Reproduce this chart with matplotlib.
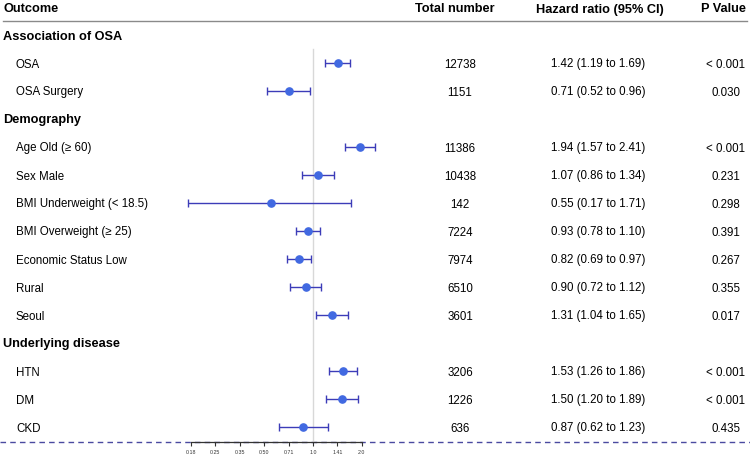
import matplotlib
matplotlib.use("Agg")
import matplotlib.pyplot as plt
import numpy as np

plt.rcParams["font.family"] = ["Liberation Sans", "DejaVu Sans"]

# --- data -----------------------------------------------------------------
sections = ["Association of OSA", "Demography", "Underlying disease"]
outcomes = [
    "OSA", "OSA Surgery",
    "Age Old (≥ 60)", "Sex Male", "BMI Underweight (< 18.5)", "BMI Overweight (≥ 25)",
    "Economic Status Low", "Rural", "Seoul",
    "HTN", "DM", "CKD",
]
section_idx = [0, 0, 1, 1, 1, 1, 1, 1, 1, 2, 2, 2]
totals = [12738, 1151, 11386, 10438, 142, 7224, 7974, 6510, 3601, 3206, 1226, 636]
hr = [1.42, 0.71, 1.94, 1.07, 0.55, 0.93, 0.82, 0.90, 1.31, 1.53, 1.50, 0.87]
ci_low = [1.19, 0.52, 1.57, 0.86, 0.17, 0.78, 0.69, 0.72, 1.04, 1.26, 1.20, 0.62]
ci_high = [1.69, 0.96, 2.41, 1.34, 1.71, 1.10, 0.97, 1.12, 1.65, 1.86, 1.89, 1.23]
p_values = ["< 0.001", "0.030", "< 0.001", "0.231", "0.298", "0.391", "0.267",
            "0.355", "0.017", "< 0.001", "< 0.001", "0.435"]
tick_values = [2 ** (k / 2) for k in range(-5, 3)]
tick_labels = ["0.18", "0.25", "0.35", "0.50", "0.71", "1.0", "1.41", "2.0"]

# --- layout (pixels) ------------------------------------------------------
W, H = 750, 458
ROW0, ROW_H = 35, 28          # first row centre, row pitch
HEADER_Y, RULE_Y, AXIS_Y = 8, 21, 442
TXT_DY = 1.5                  # nudge text down to sit on the marker line
X_ONE, PX_PER_LOG2 = 313, 48.8
FOREST_L, FOREST_R = 150, 400

HEAD_FS, BODY_FS = 9.2, 8.3
DOT = "#4169e1"
BAR = "#3c3cb8"

# build the row order: section header followed by its outcomes
rows = []
for s, name in enumerate(sections):
    rows.append(("section", name, None))
    for i, sec in enumerate(section_idx):
        if sec == s:
            rows.append(("item", outcomes[i], i))

fig = plt.figure(figsize=(W / 100, H / 100), dpi=100)
bg = fig.add_axes([0, 0, 1, 1])
bg.set_xlim(0, W)
bg.set_ylim(H, 0)
bg.axis("off")

# header
hy = HEADER_Y + TXT_DY
bg.text(3, hy, "Outcome", fontsize=HEAD_FS, fontweight="bold", va="center")
bg.text(455, hy, "Total number", fontsize=HEAD_FS, fontweight="bold", va="center", ha="center")
bg.text(600, hy, "Hazard ratio (95% CI)", fontsize=HEAD_FS, fontweight="bold", va="center", ha="center")
bg.text(746, hy, "P Value", fontsize=HEAD_FS, fontweight="bold", va="center", ha="right")
bg.plot([3, 747], [RULE_Y, RULE_Y], color="#8a8a8a", lw=1.0)
bg.plot([0, W], [AXIS_Y, AXIS_Y], color="#4a4aa0", lw=1.0, ls=(0, (4, 3)))

# forest axes
ax = fig.add_axes([FOREST_L / W, (H - AXIS_Y) / H, (FOREST_R - FOREST_L) / W, (AXIS_Y - RULE_Y) / H])
ax.patch.set_alpha(0)
ax.set_xscale("log", base=2)
ax.set_xlim(2 ** ((FOREST_L - X_ONE) / PX_PER_LOG2), 2 ** ((FOREST_R - X_ONE) / PX_PER_LOG2))
ax.set_ylim((AXIS_Y - ROW0) / ROW_H, (RULE_Y - ROW0) / ROW_H)
for side in ["top", "left", "right"]:
    ax.spines[side].set_visible(False)
ax.spines["bottom"].set_bounds(tick_values[0], tick_values[-1])
ax.spines["bottom"].set_color("#333333")
ax.spines["bottom"].set_linewidth(0.9)
ax.set_yticks([])
ax.set_xticks(tick_values)
ax.set_xticklabels(tick_labels)
ax.minorticks_off()
ax.tick_params(axis="x", length=3, width=0.8, color="#333333", labelsize=3.8,
               labelcolor="#333333", pad=3)

ax.plot([1, 1], [0.5, (AXIS_Y - ROW0) / ROW_H], color="#d8d8d8", lw=1.0, zorder=1)

for r, (kind, label, i) in enumerate(rows):
    y_px = ROW0 + ROW_H * r + TXT_DY
    if kind == "section":
        bg.text(3, y_px, label, fontsize=HEAD_FS, fontweight="bold", va="center")
        continue
    bg.text(16, y_px, label, fontsize=BODY_FS, va="center")
    bg.text(460, y_px, f"{totals[i]}", fontsize=BODY_FS, va="center", ha="center")
    bg.text(598, y_px, f"{hr[i]:.2f} ({ci_low[i]:.2f} to {ci_high[i]:.2f})",
            fontsize=BODY_FS, va="center", ha="center")
    bg.text(726, y_px, p_values[i], fontsize=BODY_FS, va="center", ha="center")
    ax.errorbar(hr[i], r, xerr=[[hr[i] - ci_low[i]], [ci_high[i] - hr[i]]],
                fmt="none", ecolor=BAR, elinewidth=1.0, capsize=3, capthick=1.0,
                clip_on=False, zorder=2)
    ax.plot(hr[i], r, "o", color=DOT, ms=5.2, clip_on=False, zorder=3)

fig.savefig("out.png", dpi=100)
